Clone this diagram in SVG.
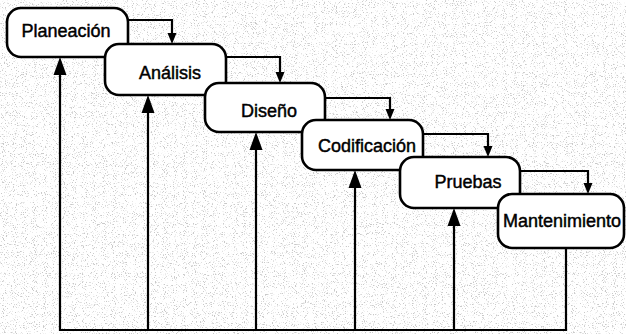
<svg xmlns="http://www.w3.org/2000/svg" width="626" height="334" viewBox="0 0 626 334">
<defs>
  <filter id="grain" x="0" y="0" width="100%" height="100%">
    <feTurbulence type="fractalNoise" baseFrequency="0.9" numOctaves="2" seed="7" result="n"/>
    <feColorMatrix type="matrix" values="0 0 0 0 0.3  0 0 0 0 0.3  0 0 0 0 0.3  7 0 0 0 -4.1"/>
  </filter>
</defs>
<style>
  .box { fill: #fff; stroke: #000; stroke-width: 2.6; }
  .lbl { font-family: "Liberation Sans", Arial, sans-serif; font-size: 18px; fill: #000; text-anchor: middle; stroke: #000; stroke-width: 0.45; }
  .c { fill: none; stroke: #000; stroke-width: 2.2; }
  .h { fill: #000; }
</style>
<rect width="626" height="334" fill="#fff"/>
<rect width="626" height="334" filter="url(#grain)" opacity="0.5"/>

<g id="connectors">
  <path class="c" d="M128,20 H172 V34"/>
  <path class="h" d="M172,44 L167.5,33 L176.5,33 Z"/>
  <path class="c" d="M226,57 H280 V73"/>
  <path class="h" d="M280,83 L275.5,72 L284.5,72 Z"/>
  <path class="c" d="M325,98 H390 V110"/>
  <path class="h" d="M390,120 L385.5,109 L394.5,109 Z"/>
  <path class="c" d="M423,134 H488 V147"/>
  <path class="h" d="M488,157 L483.5,146 L492.5,146 Z"/>
  <path class="c" d="M520,171 H588 V184"/>
  <path class="h" d="M588,194 L583.5,183 L592.5,183 Z"/>
  <path class="c" d="M566,248 V330 H60 V74"/>
  <path class="c" d="M148,330 V112"/>
  <path class="c" d="M256,330 V149"/>
  <path class="c" d="M355,330 V187"/>
  <path class="c" d="M454,330 V225"/>
  <path class="h" d="M60,57 L66.5,75 L53.5,75 Z"/>
  <path class="h" d="M148,95 L154.5,113 L141.5,113 Z"/>
  <path class="h" d="M256,132 L262.5,150 L249.5,150 Z"/>
  <path class="h" d="M355,170 L361.5,188 L348.5,188 Z"/>
  <path class="h" d="M454,208 L460.5,226 L447.5,226 Z"/>
</g>

<g id="planeacion">
  <rect class="box" x="7" y="8" width="121" height="49" rx="14"/>
  <text class="lbl" x="66" y="37">Planeación</text>
</g>
<g id="analisis">
  <rect class="box" x="105" y="44" width="121" height="51" rx="14"/>
  <text class="lbl" x="170" y="79">Análisis</text>
</g>
<g id="diseno">
  <rect class="box" x="205" y="83" width="120" height="49" rx="14"/>
  <text class="lbl" x="269" y="117">Diseño</text>
</g>
<g id="codificacion">
  <rect class="box" x="302" y="120" width="121" height="50" rx="14"/>
  <text class="lbl" x="367" y="152">Codificación</text>
</g>
<g id="pruebas">
  <rect class="box" x="400" y="157" width="120" height="51" rx="14"/>
  <text class="lbl" x="468" y="188">Pruebas</text>
</g>
<g id="mantenimiento">
  <rect class="box" x="498" y="194" width="126" height="54" rx="14"/>
  <text class="lbl" x="562" y="227">Mantenimiento</text>
</g>
</svg>
